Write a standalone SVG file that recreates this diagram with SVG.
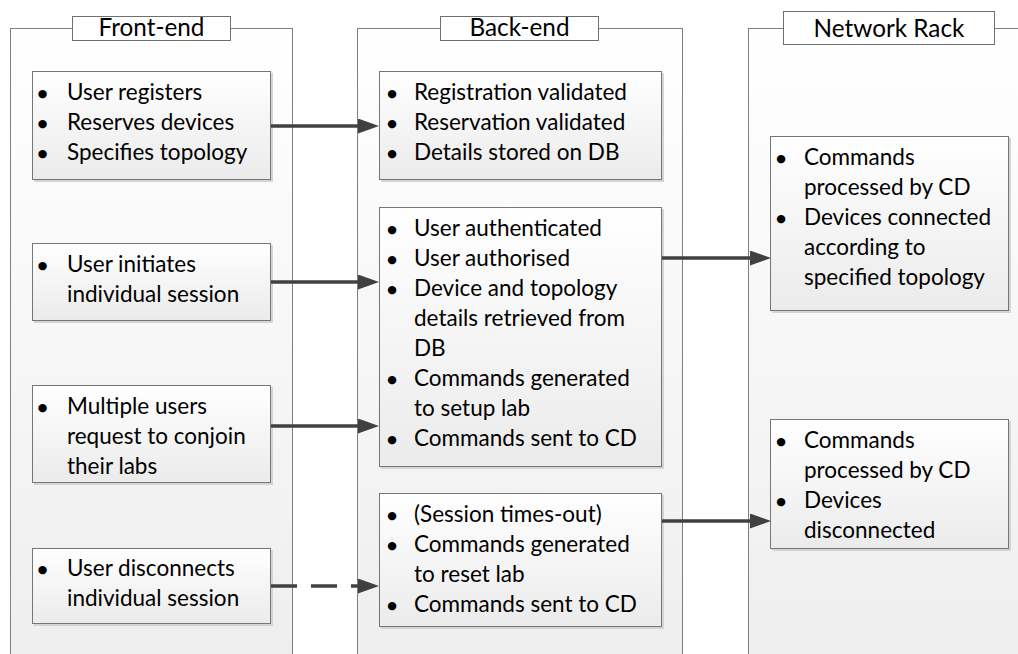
<svg xmlns="http://www.w3.org/2000/svg" width="1018" height="654" viewBox="0 0 1018 654">
<style>
.lane{fill:url(#laneGrad);stroke:#7f7f7f;stroke-width:1}
.title{fill:#ffffff;stroke:#6f6f6f;stroke-width:1}
.ttl{font-family:Lato,"Liberation Sans",sans-serif;font-size:24.3px;fill:#000;text-anchor:middle}
.box{fill:url(#boxGrad);stroke:#767676;stroke-width:1}
.shd{fill:#d4d4d4}
.t{font-family:Lato,"Liberation Sans",sans-serif;font-size:22.5px;fill:#000}
.b{font-family:"DejaVu Sans",sans-serif;font-size:11px;fill:#000;text-anchor:middle}
.con{stroke:#404040;stroke-width:3.5;fill:none;marker-end:url(#arr)}
.dash{stroke-dasharray:26 14}
</style>
<defs>
<linearGradient id="laneGrad" x1="0" y1="0" x2="0" y2="1">
<stop offset="0" stop-color="#ffffff"/>
<stop offset="1" stop-color="#eeeeee"/>
</linearGradient>
<linearGradient id="boxGrad" x1="0" y1="0" x2="0" y2="1">
<stop offset="0" stop-color="#ffffff"/>
<stop offset="1" stop-color="#ebebeb"/>
</linearGradient>
<marker id="arr" markerUnits="userSpaceOnUse" markerWidth="22" markerHeight="16" refX="0" refY="7.5" orient="auto">
<path d="M0,0 L21,7.5 L0,15 z" fill="#404040"/>
</marker>
</defs>

<g id="lane-frontend">
<rect class="lane" x="10.5" y="28.5" width="282" height="640"/>
<rect class="title" x="72.5" y="16.5" width="158" height="24"/>
<text class="ttl" x="151.5" y="36">Front-end</text>
</g>
<g id="lane-backend">
<rect class="lane" x="357.5" y="28.5" width="325" height="640"/>
<rect class="title" x="440.5" y="16.5" width="158" height="24"/>
<text class="ttl" x="519.5" y="36">Back-end</text>
</g>
<g id="lane-network">
<rect class="lane" x="748.5" y="28.5" width="300" height="640"/>
<rect class="title" x="783.5" y="11.5" width="211" height="33"/>
<text class="ttl" x="889" y="37">Network Rack</text>
</g>

<g id="f1">
<rect class="shd" x="34" y="73" width="239" height="109"/>
<rect class="box" x="32.5" y="71.5" width="238" height="108"/>
<text class="b" x="42.5" y="97">●</text><text class="b" x="42.5" y="127">●</text><text class="b" x="42.5" y="157">●</text>
<text class="t" x="67" y="100">User registers</text>
<text class="t" x="67" y="130">Reserves devices</text>
<text class="t" x="67" y="160">Specifies topology</text>
</g>
<g id="f2">
<rect class="shd" x="34" y="245" width="239" height="78"/>
<rect class="box" x="32.5" y="243.5" width="238" height="77"/>
<text class="b" x="42.5" y="269">●</text>
<text class="t" x="67" y="272">User initiates</text>
<text class="t" x="67" y="302">individual session</text>
</g>
<g id="f3">
<rect class="shd" x="34" y="387" width="239" height="98"/>
<rect class="box" x="32.5" y="385.5" width="238" height="97"/>
<text class="b" x="42.5" y="411">●</text>
<text class="t" x="67" y="414">Multiple users</text>
<text class="t" x="67" y="444">request to conjoin</text>
<text class="t" x="67" y="474">their labs</text>
</g>
<g id="f4">
<rect class="shd" x="34" y="550" width="239" height="76"/>
<rect class="box" x="32.5" y="548.5" width="238" height="75"/>
<text class="b" x="42.5" y="573">●</text>
<text class="t" x="67" y="576">User disconnects</text>
<text class="t" x="67" y="606">individual session</text>
</g>

<g id="b1">
<rect class="shd" x="381" y="73" width="283" height="109"/>
<rect class="box" x="379.5" y="71.5" width="282" height="108"/>
<text class="b" x="392" y="97">●</text><text class="b" x="392" y="127">●</text><text class="b" x="392" y="157">●</text>
<text class="t" x="414" y="100">Registration validated</text>
<text class="t" x="414" y="130">Reservation validated</text>
<text class="t" x="414" y="160">Details stored on DB</text>
</g>
<g id="b2">
<rect class="shd" x="381" y="209" width="283" height="260"/>
<rect class="box" x="379.5" y="207.5" width="282" height="259"/>
<text class="b" x="392" y="233">●</text><text class="b" x="392" y="263">●</text><text class="b" x="392" y="293">●</text><text class="b" x="392" y="383">●</text><text class="b" x="392" y="443">●</text>
<text class="t" x="414" y="236">User authenticated</text>
<text class="t" x="414" y="266">User authorised</text>
<text class="t" x="414" y="296">Device and topology</text>
<text class="t" x="414" y="326">details retrieved from</text>
<text class="t" x="414" y="356">DB</text>
<text class="t" x="414" y="386">Commands generated</text>
<text class="t" x="414" y="416">to setup lab</text>
<text class="t" x="414" y="446">Commands sent to CD</text>
</g>
<g id="b3">
<rect class="shd" x="381" y="495" width="283" height="134"/>
<rect class="box" x="379.5" y="493.5" width="282" height="133"/>
<text class="b" x="392" y="519">●</text><text class="b" x="392" y="549">●</text><text class="b" x="392" y="609">●</text>
<text class="t" x="414" y="522">(Session times-out)</text>
<text class="t" x="414" y="552">Commands generated</text>
<text class="t" x="414" y="582">to reset lab</text>
<text class="t" x="414" y="612">Commands sent to CD</text>
</g>

<g id="n1">
<rect class="shd" x="772" y="138" width="239" height="175"/>
<rect class="box" x="770.5" y="136.5" width="238" height="174"/>
<text class="b" x="781" y="162">●</text><text class="b" x="781" y="222">●</text>
<text class="t" x="804" y="165">Commands</text>
<text class="t" x="804" y="195">processed by CD</text>
<text class="t" x="804" y="225">Devices connected</text>
<text class="t" x="804" y="255">according to</text>
<text class="t" x="804" y="285">specified topology</text>
</g>
<g id="n2">
<rect class="shd" x="772" y="421" width="239" height="130"/>
<rect class="box" x="770.5" y="419.5" width="238" height="129"/>
<text class="b" x="781" y="445">●</text><text class="b" x="781" y="505">●</text>
<text class="t" x="804" y="448">Commands</text>
<text class="t" x="804" y="478">processed by CD</text>
<text class="t" x="804" y="508">Devices</text>
<text class="t" x="804" y="538">disconnected</text>
</g>

<g id="connectors">
<path class="con" d="M271,126 H358"/>
<path class="con" d="M271,282 H358"/>
<path class="con" d="M271,426 H358"/>
<path class="con dash" d="M271,586 H358"/>
<path class="con" d="M662,258 H750"/>
<path class="con" d="M662,521 H750"/>
</g>
</svg>
